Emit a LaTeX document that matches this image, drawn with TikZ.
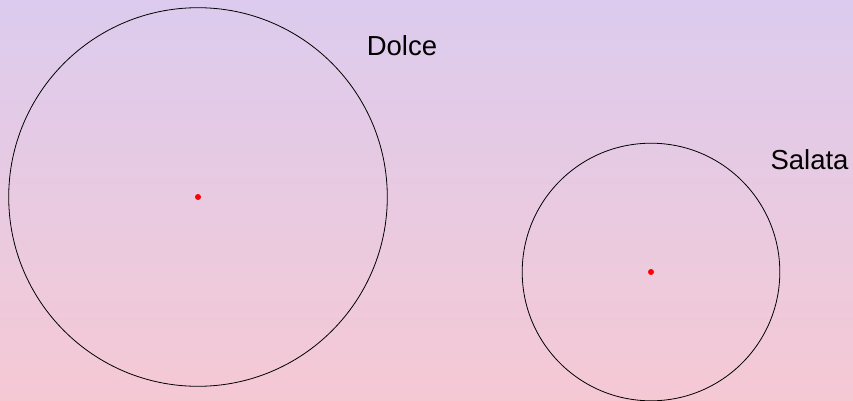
\documentclass[tikz,border=0pt]{standalone}
\usepackage{fontspec}
\setmainfont{Liberation Sans}
\definecolor{topc}{HTML}{DCCBEE}
\definecolor{botc}{HTML}{F5C9D4}
\begin{document}
\begin{tikzpicture}[x=1pt,y=-1pt,
  ring/.style={draw=black, line width=0.8pt},
  center/.style={circle, fill=red, inner sep=0pt, minimum size=6pt},
  lab/.style={font=\fontsize{27.5}{30}\selectfont, inner sep=0pt, text=black}]
\shade[top color=topc, bottom color=botc] (0,0) rectangle (853,401);
\useasboundingbox (0,0) rectangle (853,401);
\draw[ring] (198,197) circle (189.3);
\draw[ring] (651,272) circle (128.8);
\node[center] (c1) at (198,197) {};
\node[center] (c2) at (651,272) {};
\node[lab] (dolce) at (402,46) {Dolce};
\node[lab] (salata) at (809.5,160) {Salata};
\end{tikzpicture}
\end{document}
